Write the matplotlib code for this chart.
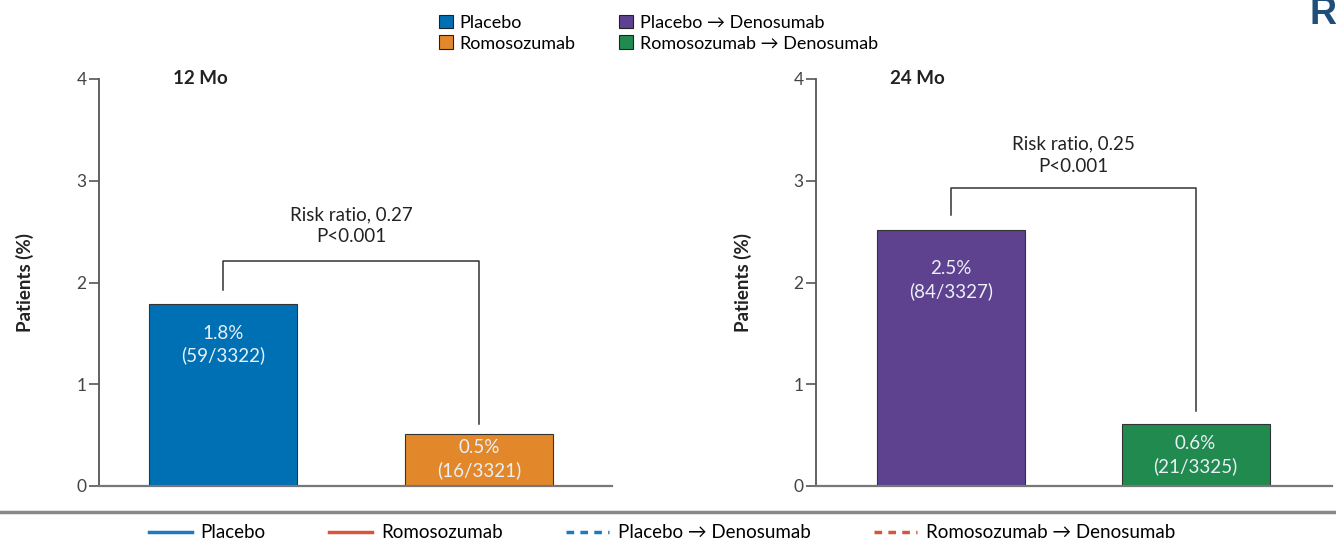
import matplotlib
matplotlib.use("Agg")
import matplotlib.pyplot as plt
from matplotlib.patches import Patch
from matplotlib.lines import Line2D

plt.rcParams['font.family'] = ['Lato', 'DejaVu Sans']

# ---- data ----
panel_titles = ["12 Mo", "24 Mo"]
groups_12 = ["Placebo", "Romosozumab"]
groups_24 = ["Placebo \u2192 Denosumab", "Romosozumab \u2192 Denosumab"]
values_12 = [1.79, 0.51]
values_24 = [2.52, 0.61]
labels_12 = ["1.8%\n(59/3322)", "0.5%\n(16/3321)"]
labels_24 = ["2.5%\n(84/3327)", "0.6%\n(21/3325)"]
risk_12 = "Risk ratio, 0.27\nP<0.001"
risk_24 = "Risk ratio, 0.25\nP<0.001"
yticks = [0, 1, 2, 3, 4]
line_legend = ["Placebo", "Romosozumab", "Placebo \u2192 Denosumab", "Romosozumab \u2192 Denosumab"]

colors_12 = ["#0070b4", "#e3882a"]
colors_24 = ["#5e4290", "#208a4f"]

W, H = 1336, 542
fig = plt.figure(figsize=(W / 100, H / 100), dpi=100)

def px_axes(l, r, top, bottom):
    return fig.add_axes([l / W, (H - bottom) / H, (r - l) / W, (bottom - top) / H])

ax1 = px_axes(99, 612, 79, 486)
ax2 = px_axes(816, 1332, 79, 486)

tick_col = "#444444"

def style(ax, xlim, title, title_x):
    ax.set_ylim(0, 4)
    ax.set_xlim(*xlim)
    ax.set_yticks(yticks)
    ax.set_xticks([])
    for s in ["top", "right"]:
        ax.spines[s].set_visible(False)
    ax.spines["left"].set_color("#555555")
    ax.spines["left"].set_linewidth(1.3)
    ax.spines["bottom"].set_color("#777777")
    ax.spines["bottom"].set_linewidth(1.6)
    ax.tick_params(axis="y", direction="out", length=7, width=1.2, color="#555555",
                   labelsize=12.5, labelcolor=tick_col, pad=2)
    ax.set_ylabel("Patients (%)", fontsize=13.5, fontweight="bold", color="#222222")
    ax.text(title_x, 4.0, title, fontsize=13.5, fontweight="bold", color="#222222",
            ha="left", va="center")

style(ax1, (-0.485, 1.52), panel_titles[0], -0.195)
style(ax2, (-0.552, 1.558), panel_titles[1], -0.25)
ax1.yaxis.set_label_coords(-0.127, 0.5)
ax2.yaxis.set_label_coords(-0.124, 0.5)

def draw_bars(ax, values, colors, labels, width, label_ys, bracket, risk, risk_y):
    xs = list(range(len(values)))
    ax.bar(xs, values, width=width, color=colors, edgecolor="#333333", linewidth=0.8, zorder=2)
    for x, lab, ly in zip(xs, labels, label_ys):
        ax.text(x, ly, lab, ha="center", va="center", color="#eaf0f7", fontsize=13.5,
                linespacing=1.35, zorder=3)
    l0, top, r0 = bracket
    ax.plot([0, 0, 1, 1], [l0, top, top, r0], color="#333333", lw=1.1, zorder=3)
    ax.text(0.5, risk_y, risk, ha="center", va="center", fontsize=13.5, color="#222222",
            linespacing=1.35)

draw_bars(ax1, values_12, colors_12, labels_12, 0.58, [1.39, 0.26], (1.93, 2.21, 0.61), risk_12, 2.56)
draw_bars(ax2, values_24, colors_24, labels_24, 0.605, [2.02, 0.30], (2.66, 2.93, 0.74), risk_24, 3.25)

# top legend
patches = [Patch(facecolor=c, edgecolor="#222222", linewidth=0.8, label=l)
           for c, l in zip(colors_12 + colors_24, groups_12 + groups_24)]
fig.legend(handles=patches, ncol=2, loc="upper left", bbox_to_anchor=(426 / W, 1.0 - 2 / H),
           frameon=False, fontsize=13, handlelength=0.8, handleheight=0.8,
           handletextpad=0.35, columnspacing=2.4, labelspacing=0.25, borderpad=0.2)

# corner letter
fig.text(1310 / W, 1.0 + 4 / H, "R", fontsize=27, fontweight="bold", color="#1f4e7a",
         ha="left", va="top", family="Liberation Sans")

# separator
fig.add_artist(Line2D([0, 1], [(H - 512) / H] * 2, color="#888888", lw=2.5))

# bottom line legend
line_handles = [
    Line2D([], [], color="#1a7bc0", lw=2.5, label=line_legend[0]),
    Line2D([], [], color="#d5553d", lw=2.5, label=line_legend[1]),
    Line2D([], [], color="#1a7bc0", lw=2.5, linestyle=(0, (2.2, 1.8)), label=line_legend[2]),
    Line2D([], [], color="#d5553d", lw=2.5, linestyle=(0, (2.2, 1.8)), label=line_legend[3]),
]
fig.legend(handles=line_handles, ncol=4, loc="center", bbox_to_anchor=(662 / W, (H - 533) / H),
           frameon=False, fontsize=13.5, handlelength=2.3, handletextpad=0.45,
           columnspacing=3.4, borderpad=0)

fig.savefig("out.png", dpi=100)
